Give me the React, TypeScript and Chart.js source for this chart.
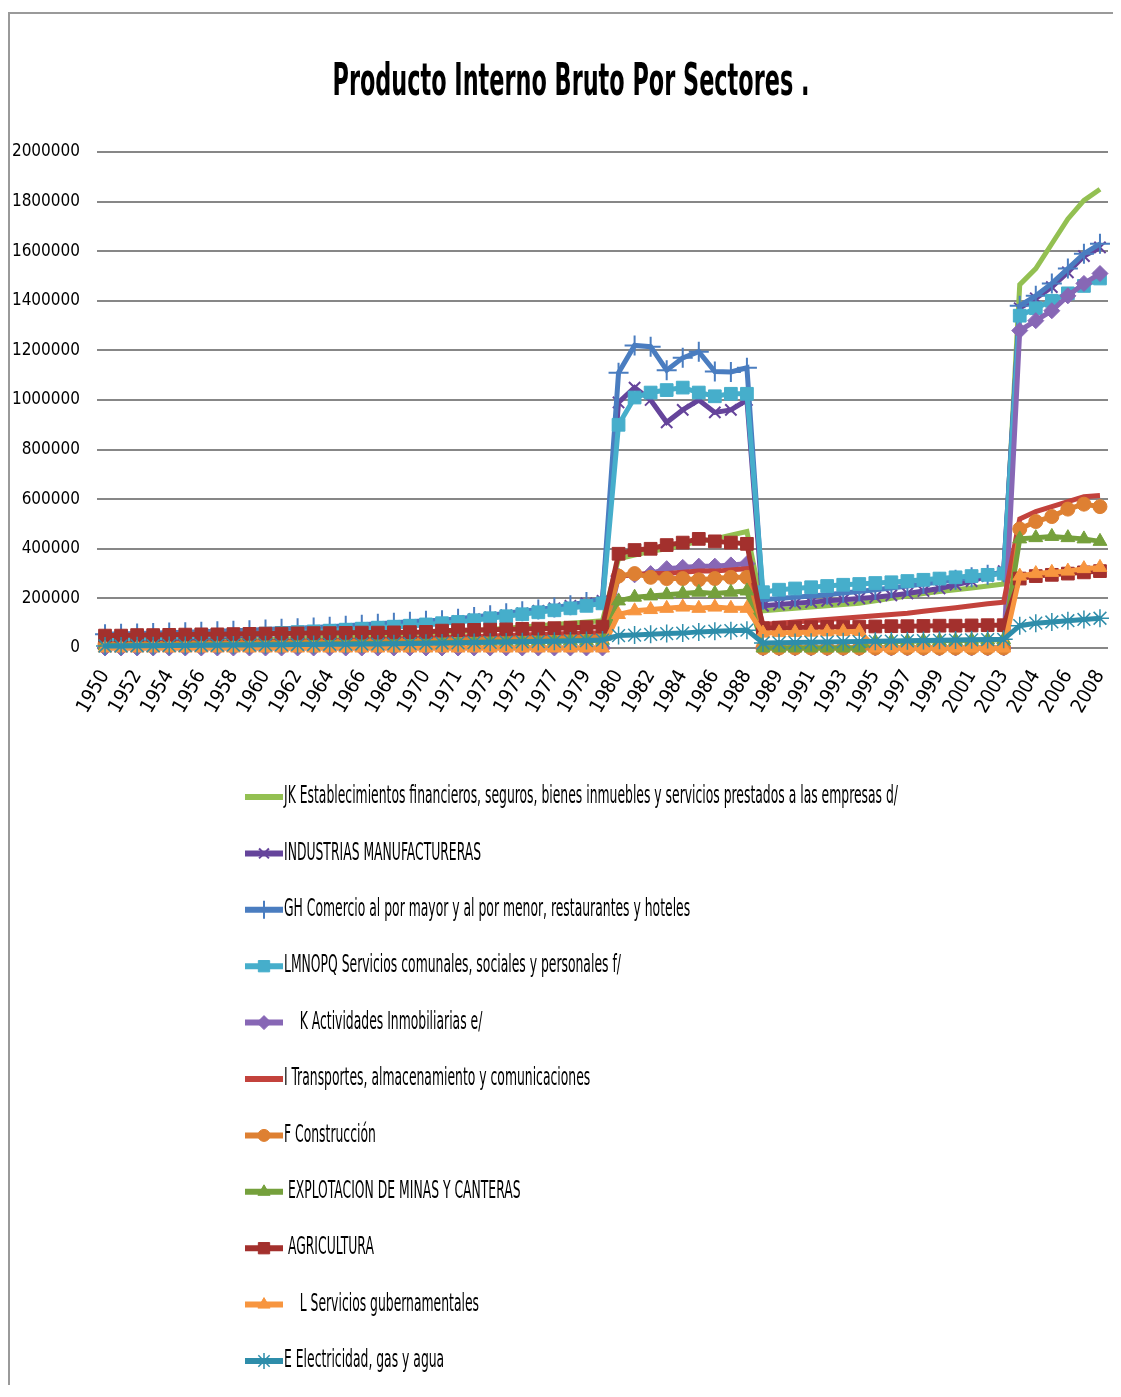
import React, { useEffect, useRef } from 'react';
import { Chart, registerables } from 'chart.js';
import { drawPoint } from 'chart.js/helpers';

Chart.register(...registerables);

const chartTitle = 'Producto Interno Bruto Por Sectores .';

const categories = [
  '1950', '1951', '1952', '1953', '1954', '1955', '1956', '1957', '1958', '1959', '1960',
  '1961', '1962', '1963', '1964', '1965', '1966', '1967', '1968', '1969', '1970',
  '1970', '1971', '1972', '1973', '1974', '1975', '1976', '1977', '1978', '1979',
  '1980', '1980', '1981', '1982', '1983', '1984', '1985', '1986', '1987', '1988',
  '1988', '1989', '1990', '1991', '1992', '1993', '1994', '1995', '1996', '1997',
  '1998', '1999', '2000', '2001', '2002', '2003',
  '2003', '2004', '2005', '2006', '2007', '2008',
];

const yTickValues = [0, 200000, 400000, 600000, 800000, 1000000, 1200000, 1400000, 1600000, 1800000, 2000000];

const seriesNames = [
  'JK Establecimientos financieros, seguros, bienes inmuebles y servicios prestados a las empresas d/',
  'INDUSTRIAS MANUFACTURERAS',
  'GH Comercio al por mayor y al por menor, restaurantes y hoteles',
  'LMNOPQ Servicios comunales, sociales y personales f/',
  '    K Actividades Inmobiliarias e/',
  'I Transportes, almacenamiento y comunicaciones',
  'F Construcción',
  ' EXPLOTACION DE MINAS Y CANTERAS',
  ' AGRICULTURA',
  '    L Servicios gubernamentales',
  'E Electricidad, gas y agua',
];

const jkFinancieros = [
  20000, 21000, 22000, 23000, 24000, 25000, 27000, 28000, 30000, 32000, 34000, 36000, 38000, 40000, 42000, 45000, 48000, 51000, 54000, 57000, 60000,
  62000, 66000, 70000, 75000, 80000, 85000, 90000, 95000, 100000, 105000,
  110000,
  360000, 375000, 390000, 400000, 415000, 430000, 440000, 455000, 470000,
  150000, 155000, 160000, 165000, 170000, 175000, 180000, 190000, 200000, 210000, 220000, 228000, 235000, 242000, 250000, 258000,
  1465000, 1530000, 1630000, 1730000, 1805000, 1850000,
];

const industrias = [
  25000, 28000, 30000, 33000, 36000, 39000, 42000, 45000, 48000, 51000, 55000, 58000, 62000, 66000, 70000, 74000, 78000, 82000, 86000, 90000, 95000,
  100000, 108000, 116000, 124000, 132000, 140000, 150000, 160000, 170000, 180000,
  190000,
  990000, 1050000, 1000000, 910000, 960000, 1000000, 950000, 960000, 1000000,
  170000, 175000, 180000, 185000, 190000, 195000, 200000, 205000, 212000, 220000, 230000, 240000, 255000, 270000, 290000, 310000,
  1370000, 1410000, 1455000, 1515000, 1580000, 1615000,
];

const comercio = [
  55000, 57000, 58000, 60000, 62000, 64000, 66000, 68000, 70000, 72000, 75000, 78000, 80000, 83000, 86000, 90000, 94000, 98000, 102000, 106000, 110000,
  112000, 118000, 125000, 132000, 140000, 148000, 155000, 163000, 172000, 185000,
  198000,
  1110000, 1220000, 1215000, 1120000, 1170000, 1195000, 1115000, 1113000, 1130000,
  195000, 200000, 205000, 210000, 215000, 222000, 228000, 235000, 242000, 250000, 258000, 266000, 275000, 285000, 295000, 305000,
  1380000, 1420000, 1470000, 1530000, 1590000, 1630000,
];

const serviciosComunales = [
  35000, 37000, 39000, 41000, 43000, 45000, 47000, 50000, 52000, 55000, 58000, 61000, 64000, 67000, 70000, 74000, 78000, 82000, 86000, 90000, 95000,
  100000, 105000, 112000, 120000, 128000, 136000, 144000, 152000, 160000, 170000,
  180000,
  900000, 1010000, 1030000, 1040000, 1050000, 1030000, 1015000, 1025000, 1025000,
  225000, 235000, 240000, 245000, 250000, 255000, 258000, 262000, 265000, 270000, 275000, 280000, 285000, 290000, 295000, 300000,
  1340000, 1370000, 1400000, 1430000, 1460000, 1490000,
];

const inmobiliarias = [
  0, 0, 0, 0, 0, 0, 0, 0, 0, 0, 0, 0, 0, 0, 0, 0, 0, 0, 0, 0, 0,
  0, 0, 0, 0, 0, 0, 0, 0, 0, 0,
  0,
  290000, 295000, 300000, 320000, 325000, 330000, 330000, 335000, 340000,
  0, 0, 0, 0, 0, 0, 0, 0, 0, 0, 0, 0, 0, 0, 0, 0,
  1280000, 1320000, 1360000, 1420000, 1470000, 1510000,
];

const transportes = [
  15000, 16000, 17000, 18000, 19000, 20000, 21000, 22000, 23000, 24000, 25000, 26000, 27000, 28000, 29000, 30000, 32000, 34000, 36000, 38000, 40000,
  42000, 44000, 46000, 48000, 50000, 52000, 54000, 56000, 58000, 60000,
  62000,
  290000, 295000, 300000, 300000, 305000, 310000, 310000, 315000, 320000,
  95000, 100000, 105000, 110000, 115000, 120000, 125000, 130000, 135000, 140000, 148000, 155000, 162000, 170000, 178000, 185000,
  520000, 550000, 570000, 590000, 610000, 615000,
];

const construccion = [
  15000, 16000, 16000, 17000, 18000, 18000, 19000, 20000, 20000, 21000, 22000, 22000, 23000, 24000, 25000, 26000, 27000, 28000, 29000, 30000, 31000,
  32000, 33000, 34000, 35000, 36000, 37000, 38000, 39000, 40000, 42000,
  44000,
  290000, 300000, 285000, 280000, 280000, 275000, 280000, 285000, 285000,
  0, 0, 0, 0, 0, 0, 0, 0, 0, 0, 0, 0, 0, 0, 0, 0,
  480000, 510000, 530000, 560000, 580000, 570000,
];

const minas = [
  10000, 10000, 11000, 11000, 12000, 12000, 13000, 13000, 14000, 14000, 15000, 15000, 16000, 16000, 17000, 17000, 18000, 18000, 19000, 19000, 20000,
  21000, 22000, 23000, 24000, 25000, 26000, 27000, 28000, 29000, 30000,
  31000,
  190000, 205000, 210000, 215000, 220000, 225000, 220000, 225000, 230000,
  0, 0, 0, 0, 0, 0, 0, 25000, 26000, 27000, 28000, 29000, 30000, 31000, 32000, 33000,
  440000, 445000, 450000, 445000, 440000, 430000,
];

const agricultura = [
  50000, 50000, 52000, 52000, 53000, 54000, 55000, 55000, 56000, 57000, 58000, 58000, 59000, 60000, 60000, 61000, 62000, 62000, 63000, 64000, 65000,
  70000, 72000, 73000, 74000, 75000, 77000, 78000, 80000, 82000, 84000,
  86000,
  380000, 395000, 400000, 415000, 425000, 440000, 430000, 425000, 420000,
  80000, 82000, 83000, 84000, 85000, 86000, 86000, 87000, 88000, 88000, 89000, 90000, 90000, 91000, 92000, 92000,
  280000, 290000, 295000, 300000, 305000, 310000,
];

const gubernamentales = [
  0, 0, 0, 0, 0, 0, 0, 0, 0, 0, 0, 0, 0, 0, 0, 0, 0, 0, 0, 0, 0,
  0, 0, 0, 0, 0, 0, 0, 0, 0, 0,
  0,
  135000, 150000, 155000, 160000, 165000, 160000, 165000, 160000, 160000,
  60000, 62000, 63000, 64000, 65000, 66000, 67000, 0, 0, 0, 0, 0, 0, 0, 0, 0,
  290000, 300000, 305000, 310000, 320000, 325000,
];

const electricidad = [
  8000, 8000, 9000, 9000, 10000, 10000, 11000, 11000, 12000, 12000, 13000, 13000, 14000, 14000, 15000, 15000, 16000, 16000, 17000, 18000, 19000,
  20000, 21000, 22000, 23000, 24000, 25000, 26000, 27000, 28000, 30000,
  32000,
  50000, 52000, 55000, 58000, 60000, 65000, 68000, 70000, 72000,
  20000, 21000, 22000, 23000, 24000, 25000, 26000, 27000, 28000, 29000, 30000, 31000, 32000, 33000, 34000, 35000,
  90000, 100000, 105000, 110000, 115000, 120000,
];

const seriesValues = [
  jkFinancieros, industrias, comercio, serviciosComunales, inmobiliarias,
  transportes, construccion, minas, agricultura, gubernamentales, electricidad,
];

const seriesStyles = [
  { color: '#93C052', pointStyle: 'circle', radius: 0, bw: 1 },
  { color: '#65449B', pointStyle: 'crossRot', radius: 8, bw: 2 },
  { color: '#4A7DC0', pointStyle: 'cross', radius: 10, bw: 2 },
  { color: '#46AECB', pointStyle: 'rect', radius: 9, bw: 1 },
  { color: '#8767B5', pointStyle: 'rectRot', radius: 8, bw: 1 },
  { color: '#C3423C', pointStyle: 'circle', radius: 0, bw: 1 },
  { color: '#DE8032', pointStyle: 'circle', radius: 7, bw: 1 },
  { color: '#75A03C', pointStyle: 'triangle', radius: 8, bw: 1 },
  { color: '#A3302D', pointStyle: 'rect', radius: 9, bw: 1 },
  { color: '#F7953F', pointStyle: 'triangle', radius: 8, bw: 1 },
  { color: '#2E8DAA', pointStyle: 'star', radius: 9, bw: 1.5 },
];

const NARROW = '"Liberation Sans Narrow", "DejaVu Sans Condensed", "Liberation Sans", sans-serif';

const titleLegendPlugin = {
  id: 'titleLegend',
  afterDraw(chart: any) {
    const ctx = chart.ctx as CanvasRenderingContext2D;
    // Title
    ctx.save();
    ctx.font = 'bold 44px ' + NARROW;
    ctx.fillStyle = '#000';
    ctx.textBaseline = 'alphabetic';
    ctx.textAlign = 'center';
    const tw = ctx.measureText(chartTitle).width;
    const tsx = 477 / tw;
    ctx.translate(561, 81);
    ctx.scale(tsx, 1);
    ctx.fillText(chartTitle, 0, 0);
    ctx.restore();

    // Legend
    ctx.save();
    ctx.font = '24px ' + NARROW;
    const refW = ctx.measureText(seriesNames[0]).width;
    const lsx = 614 / refW;
    for (let i = 0; i < seriesNames.length; i++) {
      const st = seriesStyles[i];
      const y = 783 + i * 56.4;
      ctx.strokeStyle = st.color;
      ctx.fillStyle = st.color;
      ctx.lineWidth = 6;
      ctx.lineCap = 'butt';
      ctx.beginPath();
      ctx.moveTo(235, y);
      ctx.lineTo(273, y);
      ctx.stroke();
      if (st.radius > 0) {
        ctx.lineWidth = st.bw;
        drawPoint(ctx, { pointStyle: st.pointStyle, radius: st.radius - 1, borderWidth: st.bw, rotation: 0 } as any, 254, y);
      }
      ctx.save();
      ctx.fillStyle = '#000';
      ctx.textAlign = 'left';
      ctx.textBaseline = 'middle';
      ctx.translate(274, y);
      ctx.scale(lsx, 1);
      ctx.fillText(seriesNames[i], 0, 0);
      ctx.restore();
    }
    ctx.restore();
  },
};

export default function App() {
  const canvasRef = useRef<HTMLCanvasElement | null>(null);

  useEffect(() => {
    const canvas = canvasRef.current;
    if (!canvas) return;
    const datasets = seriesValues.map((vals, i) => {
      const st = seriesStyles[i];
      return {
        label: seriesNames[i].trim(),
        data: vals,
        borderColor: st.color,
        backgroundColor: st.color,
        borderWidth: 5,
        pointStyle: st.pointStyle,
        pointRadius: st.radius,
        pointBorderWidth: st.bw,
        pointBackgroundColor: st.color,
        pointBorderColor: st.color,
        tension: 0,
        clip: false,
        order: seriesValues.length - i,
      };
    });

    const chart = new Chart(canvas, {
      type: 'line',
      data: { labels: categories, datasets },
      plugins: [titleLegendPlugin],
      options: {
        animation: false,
        responsive: false,
        devicePixelRatio: 1,
        layout: { autoPadding: false, padding: { top: 138, bottom: 651, left: 0, right: 5 } },
        plugins: {
          legend: { display: false },
          title: { display: false },
          tooltip: { enabled: false },
        },
        scales: {
          x: {
            type: 'category',
            offset: true,
            grid: { display: false, drawTicks: false },
            border: { display: false },
            afterFit: (scale: any) => {
              scale.height = 90;
              scale.paddingLeft = 0;
              scale.paddingRight = 0;
            },
            ticks: {
              autoSkip: false,
              minRotation: 60,
              maxRotation: 60,
              padding: 18,
              color: '#000',
              font: { family: NARROW, size: 20 },
              callback: (_v: any, idx: number) => (idx % 2 === 0 ? categories[idx] : ''),
            },
          },
          y: {
            min: 0,
            max: 2000000,
            afterFit: (scale: any) => { scale.width = 87; },
            afterBuildTicks: (scale: any) => { scale.ticks = yTickValues.map((v) => ({ value: v })); },
            grid: { color: '#878787', lineWidth: 2, drawTicks: false },
            border: { display: false },
            ticks: {
              padding: 17,
              color: '#000',
              font: { family: NARROW, size: 17 },
              callback: (v: any) => String(v),
            },
          },
        },
      } as any,
    });
    return () => chart.destroy();
  }, []);

  return (
    <div
      style={{
        position: 'relative',
        top: 4,
        width: 1103,
        height: 1375,
        borderLeft: '2px solid #9a9a9a',
        borderTop: '2px solid #9a9a9a',
        background: '#fff',
      }}
    >
      <canvas ref={canvasRef} width={1103} height={1375} style={{ display: 'block' }} />
    </div>
  );
}
